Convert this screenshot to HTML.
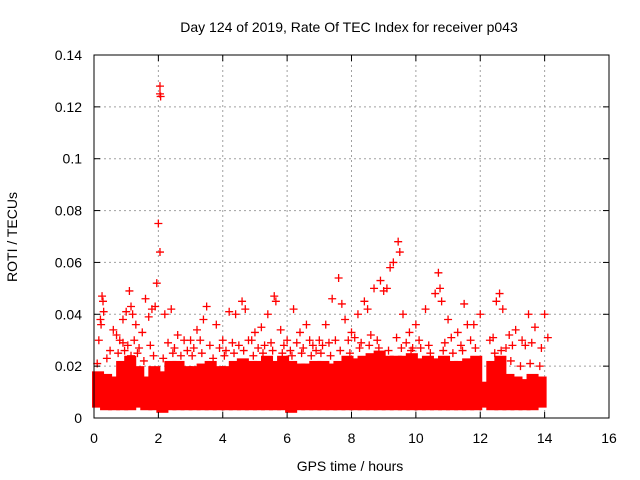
<!DOCTYPE html>
<html><head><meta charset="utf-8"><style>
html,body{margin:0;padding:0;background:#fff;}
svg{display:block;font-family:"Liberation Sans",sans-serif;}
</style></head><body>
<svg id="chart" width="640" height="480" viewBox="0 0 640 480" xmlns="http://www.w3.org/2000/svg">
<text x="349" y="32" font-size="14" text-anchor="middle">Day 124 of 2019, Rate Of TEC Index for receiver p043</text>
<text x="350" y="471" font-size="14" text-anchor="middle">GPS time / hours</text>
<text x="17" y="237" font-size="14" text-anchor="middle" transform="rotate(-90 17 237)">ROTI / TECUs</text>
<g id="grid"></g>
<g id="band"></g>
<g id="marks"></g>
<g id="axes"></g>
</svg>
<script>
const xTicks=[0,2,4,6,8,10,12,14,16];
const yTicks=[0,0.02,0.04,0.06,0.08,0.1,0.12,0.14];
const yTickLabels=["0","0.02","0.04","0.06","0.08","0.1","0.12","0.14"];
// dense band per 0.25 h bin: lower and upper ROTI
const binStart=[0,0.25,0.5,0.75,1,1.25,1.5,1.75,2,2.25,2.5,2.75,3,3.25,3.5,3.75,4,4.25,4.5,4.75,5,5.25,5.5,5.75,6,6.25,6.5,6.75,7,7.25,7.5,7.75,8,8.25,8.5,8.75,9,9.25,9.5,9.75,10,10.25,10.5,10.75,11,11.25,11.5,11.75,12,12.25,12.5,12.75,13,13.25,13.5,13.75];
const bandLow=[0.004,0.003,0.003,0.003,0.003,0.004,0.003,0.003,0.002,0.003,0.003,0.003,0.003,0.003,0.003,0.003,0.003,0.003,0.003,0.003,0.003,0.003,0.003,0.003,0.002,0.003,0.003,0.003,0.003,0.003,0.003,0.003,0.003,0.003,0.003,0.003,0.003,0.003,0.003,0.003,0.003,0.003,0.003,0.003,0.003,0.003,0.003,0.003,0.004,0.003,0.003,0.003,0.003,0.003,0.003,0.004];
const bandHigh=[0.018,0.017,0.016,0.022,0.024,0.02,0.016,0.02,0.018,0.022,0.022,0.02,0.02,0.021,0.022,0.02,0.02,0.022,0.023,0.022,0.022,0.024,0.022,0.024,0.022,0.021,0.021,0.022,0.022,0.021,0.022,0.024,0.023,0.024,0.025,0.026,0.024,0.024,0.024,0.025,0.023,0.024,0.023,0.024,0.022,0.022,0.023,0.024,0.014,0.022,0.024,0.017,0.016,0.015,0.017,0.016];
// scattered points above the band
const ptX=[0.15,0.2,0.22,0.25,0.28,0.3,0.6,0.7,0.8,0.9,1.0,1.1,1.15,1.2,1.3,1.5,1.6,1.7,1.8,1.9,1.95,2.0,2.05,2.05,2.05,2.07,2.2,2.4,2.6,2.8,3.0,3.2,3.4,3.5,3.8,4.0,4.2,4.4,4.6,4.7,4.9,5.0,5.2,5.4,5.6,5.65,5.8,6.0,6.2,6.4,6.6,6.8,7.0,7.2,7.4,7.6,7.7,7.8,8.0,8.2,8.4,8.5,8.7,8.9,9.0,9.1,9.2,9.3,9.45,9.5,9.6,9.8,10.0,10.3,10.6,10.7,10.75,10.8,11.0,11.3,11.5,11.6,11.8,12.0,12.3,12.5,12.6,12.7,12.9,13.1,13.3,13.5,13.7,14.0,14.1,
 0.5,0.9,1.05,1.25,1.4,1.75,2.3,2.5,2.9,3.1,3.3,3.6,3.9,4.1,4.3,4.5,4.8,5.1,5.3,5.5,5.9,6.1,6.3,6.5,6.7,6.9,7.1,7.3,7.5,7.9,8.1,8.3,8.6,8.8,9.4,9.7,9.9,10.1,10.4,10.9,11.1,11.4,11.7,12.4,12.8,13.0,13.4,13.6,13.9,
 0.1,0.4,0.75,0.95,1.15,1.35,1.55,1.85,2.15,2.45,2.7,3.05,3.35,3.7,4.05,4.35,4.65,4.95,5.25,5.55,5.85,6.15,6.45,6.75,7.05,7.35,7.65,7.95,8.25,8.55,8.85,9.15,9.55,9.85,10.15,10.45,10.85,11.15,11.45,11.85,12.45,12.65,12.95,13.25,13.55,13.85];
const ptY=[0.03,0.038,0.036,0.047,0.045,0.041,0.034,0.032,0.03,0.038,0.041,0.049,0.043,0.04,0.036,0.033,0.046,0.039,0.042,0.043,0.052,0.075,0.064,0.128,0.125,0.124,0.04,0.042,0.032,0.03,0.03,0.034,0.038,0.043,0.036,0.03,0.041,0.04,0.045,0.042,0.03,0.033,0.035,0.04,0.047,0.045,0.034,0.03,0.042,0.033,0.036,0.028,0.03,0.036,0.046,0.054,0.044,0.038,0.033,0.04,0.045,0.042,0.05,0.053,0.049,0.05,0.058,0.06,0.068,0.064,0.04,0.033,0.036,0.042,0.048,0.056,0.05,0.045,0.038,0.033,0.044,0.036,0.036,0.04,0.03,0.045,0.048,0.042,0.032,0.034,0.03,0.04,0.035,0.04,0.031,
 0.026,0.029,0.028,0.03,0.027,0.028,0.029,0.027,0.026,0.027,0.03,0.028,0.027,0.026,0.029,0.028,0.03,0.027,0.028,0.029,0.028,0.026,0.029,0.027,0.03,0.026,0.028,0.029,0.03,0.03,0.031,0.029,0.032,0.03,0.031,0.029,0.027,0.03,0.028,0.029,0.031,0.028,0.03,0.031,0.027,0.028,0.028,0.029,0.027,
 0.021,0.023,0.025,0.026,0.024,0.025,0.022,0.024,0.023,0.025,0.024,0.024,0.025,0.023,0.024,0.025,0.026,0.024,0.025,0.026,0.025,0.024,0.025,0.024,0.025,0.024,0.026,0.025,0.027,0.028,0.027,0.026,0.027,0.026,0.027,0.025,0.026,0.025,0.026,0.027,0.025,0.026,0.022,0.02,0.021,0.02];
const L=94,R=609,T=55,B=418;
const xs=v=>L+(v-0)/(16-0)*(R-L);
const ys=v=>B-(v-0)/(0.14-0)*(B-T);
const NS="http://www.w3.org/2000/svg";
function mk(tag,parent,attrs){const e=document.createElementNS(NS,tag);for(const k in attrs)e.setAttribute(k,attrs[k]);parent.appendChild(e);return e;}
const grid=document.getElementById('grid'),axes=document.getElementById('axes'),band=document.getElementById('band'),marks=document.getElementById('marks');
xTicks.forEach((t,i)=>{const x=xs(t);
 if(i>0&&i<xTicks.length-1){const g=mk('line',grid,{x1:x,x2:x,y1:T,y2:B,stroke:'#a0a0a0','stroke-dasharray':'2,3','stroke-width':1});
 
 }
 mk('line',axes,{x1:x,x2:x,y1:B,y2:B-6,stroke:'#000'});mk('line',axes,{x1:x,x2:x,y1:T,y2:T+6,stroke:'#000'});
 const tx=mk('text',axes,{x:x,y:443,'font-size':14,'text-anchor':'middle'});tx.textContent=t;
 
 });
yTicks.forEach((t,i)=>{const y=ys(t);
 if(i>0&&i<yTicks.length-1){const g=mk('line',grid,{x1:L,x2:R,y1:y,y2:y,stroke:'#a0a0a0','stroke-dasharray':'2,3','stroke-width':1});
 
 }
 mk('line',axes,{x1:L,x2:L+6,y1:y,y2:y,stroke:'#000'});mk('line',axes,{x1:R,x2:R-6,y1:y,y2:y,stroke:'#000'});
 const tx=mk('text',axes,{x:82,y:y+5,'font-size':14,'text-anchor':'end'});tx.textContent=yTickLabels[i];
 
 });
const frame=mk('rect',axes,{x:L,y:T,width:R-L,height:B-T,fill:'none',stroke:'#000','stroke-width':1});


binStart.forEach((b,i)=>{const x0=xs(b)-2,x1=xs(b+0.25)+2;
 const r=mk('rect',band,{x:x0,y:ys(bandHigh[i]),width:x1-x0,height:ys(bandLow[i])-ys(bandHigh[i]),fill:'#ff0000'});
 
 });
ptX.forEach((v,i)=>{const x=xs(v),y=ys(ptY[i]);
 const p=mk('path',marks,{d:`M${x-4} ${y}H${x+4}M${x} ${y-4}V${y+4}`,stroke:'#ff0000','stroke-width':1.3,fill:'none'});
 
 });
</script>
</body></html>
